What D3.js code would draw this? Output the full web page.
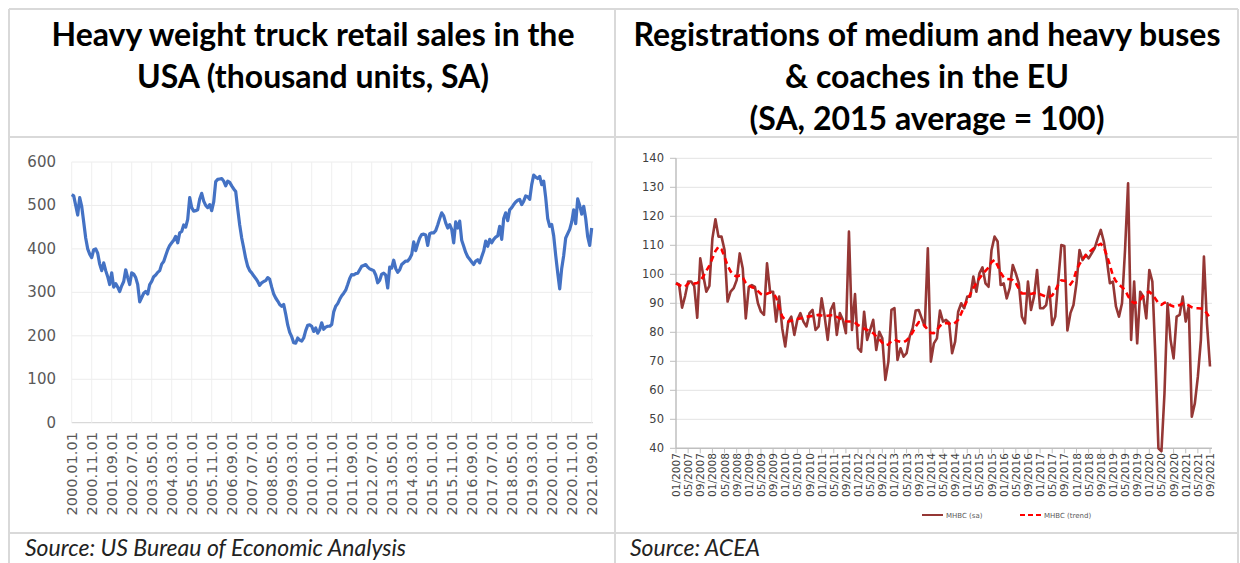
<!DOCTYPE html>
<html>
<head>
<meta charset="utf-8">
<script src="https://d3js.org/d3.v7.min.js"></script>
<style>
  body { margin: 0; background: #fff; }
  svg { display: block; }
</style>
</head>
<body>
<script type="text/javascript">

// ---- data: US heavy truck sales (thousand units, SA), monthly 2000.01 - 2021.09
let truckStart = 2000;
let truckSales = [
  525, 522, 500, 478, 518, 498, 462, 425, 400, 388, 380, 398,   // 2000
  400, 390, 365, 350, 368, 350, 336, 318, 345, 312, 320, 312,   // 2001
  302, 315, 325, 352, 334, 318, 345, 342, 334, 318, 278, 288,   // 2002
  298, 302, 296, 318, 325, 336, 340, 346, 350, 365, 371, 385,   // 2003
  398, 408, 414, 420, 429, 414, 437, 440, 455, 450, 468, 518,   // 2004
  495, 487, 488, 490, 515, 528, 510, 500, 495, 502, 488, 508,   // 2005
  555, 560, 561, 562, 556, 545, 556, 553, 545, 538, 532, 492,   // 2006
  455, 425, 402, 378, 360, 350, 345, 338, 332, 325, 316, 322,   // 2007
  325, 327, 334, 330, 312, 296, 287, 280, 272, 268, 272, 250,   // 2008
  225, 208, 198, 184, 183, 195, 190, 188, 195, 212, 224, 225,   // 2009
  222, 210, 218, 206, 214, 230, 215, 220, 222, 222, 226, 255,   // 2010
  268, 274, 284, 292, 298, 305, 318, 332, 341, 340, 343, 344,   // 2011
  352, 360, 362, 364, 358, 354, 352, 350, 340, 322, 328, 342,   // 2012
  344, 340, 310, 358, 356, 374, 355, 346, 352, 364, 368, 372,   // 2013
  372, 378, 387, 416, 396, 412, 425, 433, 434, 432, 408, 435,   // 2014
  437, 437, 442, 455, 470, 483, 476, 460, 448, 456, 445, 414,   // 2015
  462, 448, 464, 420, 406, 392, 382, 376, 370, 364, 372, 375,   // 2016
  368, 382, 395, 418, 406, 422, 414, 422, 427, 430, 452, 422,   // 2017
  470, 483, 465, 490, 495, 502, 508, 512, 514, 502, 510, 522,   // 2018
  520, 514, 548, 570, 565, 562, 567, 548, 556, 518, 470, 452,   // 2019
  456, 430, 385, 345, 308, 355, 385, 425, 435, 445, 462, 490,   // 2020
  458, 515, 500, 480, 498, 470, 428, 408, 448                   // 2021
];
let truckTicks = d3.range(0, 601, 100);

// ---- data: EU medium & heavy bus and coach registrations (SA, 2015 = 100), 01/2007 - 09/2021
let busStart = 2007;
let busSa = [
  97, 96.5, 88.5, 92.5, 97.5, 97.5, 96, 85, 105.5, 99.5, 94, 96,             // 2007
  112.4, 119, 113, 113, 108.4, 90.6, 94, 95.2, 98, 107.2, 102, 84.8,         // 2008
  95.7, 96.3, 95.7, 90, 87.1, 86, 103.8, 94, 94, 83.7, 92.3, 81.4,           // 2009
  75.1, 83.7, 85.4, 79.1, 84.3, 86.6, 83.7, 82, 86.6, 87.7, 80.8, 82,        // 2010
  91.7, 85.4, 77.4, 87.7, 90, 79.1, 86.6, 84.3, 79.7, 114.7, 80.8, 93.2,     // 2011
  74.5, 73.3, 87.1, 77.4, 80.8, 84.3, 73.9, 80.2, 77.9, 63.6, 69.9, 87.7,    // 2012
  88.3, 70.5, 74.5, 71.6, 72.8, 78.5, 81.4, 87.5, 87.7, 84.8, 82, 109,       // 2013
  69.9, 76.2, 77.9, 87.5, 83.7, 84.3, 83.3, 72.8, 76.8, 87.1, 90, 88.3,      // 2014
  92.3, 92.3, 99.2, 94, 100.3, 102.4, 96.9, 95.7, 108.4, 113, 111.3, 96.3,   // 2015
  96.9, 91.7, 95.2, 103.2, 100.3, 96.9, 85.4, 83.1, 97.5, 87.7, 92.3, 101.5, // 2016
  88.3, 88.3, 89.4, 95.7, 82.5, 85.4, 98, 110.1, 109.8, 80.6, 86.6, 89.4,    // 2017
  97, 108.4, 104.9, 106.7, 105.5, 107.2, 109, 112.4, 115.3, 111.3, 104.9, 96.9, // 2018
  97.5, 88.9, 85.4, 90, 108.4, 131.4, 77.4, 97.5, 76.2, 94, 92.3, 84.8,      // 2019
  101.5, 97.5, 71.6, 40, 39, 59, 90, 77.4, 71, 85.4, 86, 92.3,               // 2020
  83.7, 88.9, 50.9, 55.5, 64.7, 77.4, 106.1, 83.1, 68.2                      // 2021
];
let busTrend = [
  96.9, 96.3, 95.9, 95.7, 96.8, 97.3, 96.8, 97, 97.7, 99.3, 101.2, 103,      // 2007
  105.5, 108, 109.5, 108.6, 106, 103, 101, 99.8, 99.2, 99.6, 99, 97,         // 2008
  96.2, 95.5, 95.2, 94.2, 93.2, 92.9, 93.3, 93.7, 93.5, 92, 88.5, 85.5,      // 2009
  84.2, 83.7, 84, 84.3, 84.6, 84.8, 85.1, 85.4, 85.5, 85.6, 85.8, 86,        // 2010
  85.8, 85.6, 85.7, 85.9, 85.9, 85.3, 84.8, 84.2, 83.8, 83.7, 83.7, 83.3,    // 2011
  82.5, 81.9, 81.3, 80.8, 80.2, 79.7, 78.6, 77.6, 76.4, 75.5, 75.8, 77,      // 2012
  77.5, 77, 76.7, 76.6, 77.2, 78.4, 80, 82, 83.5, 83.3, 82.2, 80.8,          // 2013
  79.8, 79.7, 80.8, 82.2, 83.1, 83.2, 83, 82.6, 83.3, 84.3, 86.5, 89,        // 2014
  91, 93.2, 95.2, 97, 98.6, 100, 101.2, 102.3, 104.2, 105, 103, 100.5,       // 2015
  99, 98.4, 98.3, 98, 97, 95, 93.4, 93.4, 93.4, 93.2, 93.5, 93.6,            // 2016
  93.1, 92.7, 92.3, 92.3, 92.7, 94.3, 96.5, 97.9, 97.8, 97.3, 96.5, 98,      // 2017
  101.5, 103.5, 105.2, 106.4, 107.5, 108.4, 109.2, 110, 110.5, 109.3, 106.5, 103.2, // 2018
  99.5, 97.6, 96.5, 95.5, 94.6, 92.5, 90.8, 90.1, 90.4, 91.2, 92.6, 93.6,    // 2019
  94, 93, 91.6, 90, 89.5, 90.2, 90.4, 89.3, 88.9, 88.9, 89.4, 90,            // 2020
  89.7, 89.3, 88.6, 88.3, 88.3, 88.2, 87.8, 86.5, 84.8                       // 2021
];
let busTicks = d3.range(40, 141, 10);
let busLegend = ["MHBC (sa)", "MHBC (trend)"];

let leftTitle = ["Heavy weight truck retail sales in the", "USA (thousand units, SA)"];
let rightTitle = ["Registrations of medium and heavy buses", "& coaches in the EU", "(SA, 2015 average = 100)"];
let sources = ["Source: US Bureau of Economic Analysis", "Source: ACEA"];

let width = 1240, height = 563;
let pad = n => String(n).padStart(2, "0");

let svg = d3.select("body").append("svg")
    .attr("width", width)
    .attr("height", height);

function drawTable() {
    let g = svg.append("g").attr("stroke", "#d9d9d9").attr("stroke-width", 2);
    let xL = 9, xM = 615, xR = 1238, yT = 9, yH = 137, yS = 533;
    g.append("line").attr("x1", xL).attr("x2", xR).attr("y1", yT).attr("y2", yT);
    g.append("line").attr("x1", xL).attr("x2", xR).attr("y1", yH).attr("y2", yH);
    g.append("line").attr("x1", xL).attr("x2", xR).attr("y1", yS).attr("y2", yS);
    [xL, xM, xR].forEach(x => g.append("line").attr("x1", x).attr("x2", x).attr("y1", yT).attr("y2", height));

    let titles = [[leftTitle, 313], [rightTitle, 927]];
    titles.forEach(([lines, cx]) => {
        svg.append("text")
            .attr("x", cx).attr("y", 46)
            .attr("text-anchor", "middle")
            .style("font-family", "Lato, 'Open Sans', sans-serif")
            .style("font-weight", "bold")
            .style("font-size", "32px")
            .style("fill", "#000")
            .selectAll("tspan")
            .data(lines)
            .join("tspan")
                .attr("x", cx)
                .attr("dy", (d, i) => i == 0 ? 0 : 42)
                .text(d => d);
    });

    svg.selectAll("text.source")
        .data(sources)
        .join("text")
            .attr("class", "source")
            .attr("x", (d, i) => i == 0 ? 25 : 630)
            .attr("y", 556)
            .style("font-family", "Lato, sans-serif")
            .style("font-style", "italic")
            .style("font-size", "23px")
            .style("fill", "#222")
            .text(d => d);
}

function drawTrucks() {
    let x = d3.scaleLinear().domain([0, truckSales.length - 1]).range([71.7, 591.7]);
    let y = d3.scaleLinear().domain([0, 600]).range([422.7, 162]);
    let g = svg.append("g");

    // grid
    g.selectAll("line.hgrid")
        .data(truckTicks)
        .join("line")
            .attr("class", "hgrid")
            .attr("x1", x(0)).attr("x2", 593)
            .attr("y1", d => y(d)).attr("y2", d => y(d))
            .style("stroke", d => d == 0 ? "#d0d0d0" : "#ececec")
            .style("stroke-width", 1);
    let months = d3.range(0, truckSales.length, 10);
    g.selectAll("line.vgrid")
        .data(months)
        .join("line")
            .attr("class", "vgrid")
            .attr("x1", d => x(d)).attr("x2", d => x(d))
            .attr("y1", y(600)).attr("y2", y(0))
            .style("stroke", "#efefef")
            .style("stroke-width", 1);

    // y labels
    g.selectAll("text.ylab")
        .data(truckTicks)
        .join("text")
            .attr("class", "ylab")
            .attr("x", 56).attr("y", d => y(d) + 5)
            .attr("text-anchor", "end")
            .style("font-family", "'DejaVu Sans', sans-serif")
            .style("font-size", "15px")
            .style("fill", "#595959")
            .text(d => d);

    // x labels
    g.selectAll("text.xlab")
        .data(months)
        .join("text")
            .attr("class", "xlab")
            .attr("text-anchor", "end")
            .attr("transform", d => `translate(${x(d) + 5.5},432) rotate(-90)`)
            .style("font-family", "'DejaVu Sans', sans-serif")
            .style("font-size", "14.6px")
            .style("fill", "#595959")
            .text(d => `${truckStart + Math.floor(d / 12)}.${pad(d % 12 + 1)}.01`);

    let line = d3.line().x((d, i) => x(i)).y(d => y(d));
    g.append("path")
        .datum(truckSales)
        .attr("d", line)
        .style("fill", "none")
        .style("stroke", "#4472C4")
        .style("stroke-width", 3.2)
        .style("stroke-linejoin", "round");
}

function drawBuses() {
    let x = d3.scaleLinear().domain([0, busSa.length - 1]).range([676, 1210]);
    let y = d3.scaleLinear().domain([40, 140]).range([448.3, 158.3]);
    let g = svg.append("g");

    g.selectAll("line.hgrid")
        .data(busTicks.filter(d => d > 40))
        .join("line")
            .attr("class", "hgrid")
            .attr("x1", x(0)).attr("x2", 1212)
            .attr("y1", d => y(d)).attr("y2", d => y(d))
            .style("stroke", "#e3e3e3")
            .style("stroke-width", 1);

    // axes lines and ticks
    g.append("line")
        .attr("x1", x(0)).attr("x2", x(0)).attr("y1", y(140)).attr("y2", y(40))
        .style("stroke", "#bfbfbf").style("stroke-width", 1.5);
    g.append("line")
        .attr("x1", x(0)).attr("x2", 1212).attr("y1", y(40)).attr("y2", y(40))
        .style("stroke", "#bfbfbf").style("stroke-width", 1.5);
    g.selectAll("line.ytick")
        .data(busTicks)
        .join("line")
            .attr("class", "ytick")
            .attr("x1", x(0) - 6).attr("x2", x(0))
            .attr("y1", d => y(d)).attr("y2", d => y(d))
            .style("stroke", "#bfbfbf");

    let months = d3.range(0, busSa.length, 4);
    g.selectAll("line.xtick")
        .data(months)
        .join("line")
            .attr("class", "xtick")
            .attr("x1", d => x(d)).attr("x2", d => x(d))
            .attr("y1", y(40)).attr("y2", y(40) + 5)
            .style("stroke", "#bfbfbf");

    g.selectAll("text.ylab")
        .data(busTicks)
        .join("text")
            .attr("class", "ylab")
            .attr("x", 664).attr("y", d => y(d) + 4)
            .attr("text-anchor", "end")
            .style("font-family", "'DejaVu Sans', sans-serif")
            .style("font-size", "11.5px")
            .style("fill", "#404040")
            .text(d => d);

    g.selectAll("text.xlab")
        .data(months)
        .join("text")
            .attr("class", "xlab")
            .attr("text-anchor", "end")
            .attr("transform", d => `translate(${x(d) + 4},453) rotate(-90)`)
            .style("font-family", "'DejaVu Sans', sans-serif")
            .style("font-size", "10.6px")
            .style("fill", "#404040")
            .text(d => `${pad(d % 12 + 1)}/${busStart + Math.floor(d / 12)}`);

    let line = d3.line().x((d, i) => x(i)).y(d => y(d));
    g.append("path")
        .datum(busSa)
        .attr("d", line)
        .style("fill", "none")
        .style("stroke", "#953735")
        .style("stroke-width", 2.6)
        .style("stroke-linejoin", "round");
    g.append("path")
        .datum(busTrend)
        .attr("d", line)
        .style("fill", "none")
        .style("stroke", "#ff0000")
        .style("stroke-width", 2.6)
        .style("stroke-dasharray", "6,4");

    // legend
    let leg = g.selectAll("g.leg")
        .data(busLegend)
        .join("g")
            .attr("class", "leg")
            .attr("transform", (d, i) => `translate(${i == 0 ? 922 : 1020},515)`);
    leg.append("line")
        .attr("x1", 0).attr("x2", 21)
        .style("stroke", (d, i) => i == 0 ? "#953735" : "#ff0000")
        .style("stroke-width", 2)
        .style("stroke-dasharray", (d, i) => i == 0 ? null : "5,3");
    leg.append("text")
        .attr("x", 24).attr("y", 2.5)
        .style("font-family", "'DejaVu Sans', sans-serif")
        .style("font-size", "7px")
        .style("fill", "#595959")
        .text(d => d);
}

drawTable();
drawTrucks();
drawBuses();
</script>
</body>
</html>
